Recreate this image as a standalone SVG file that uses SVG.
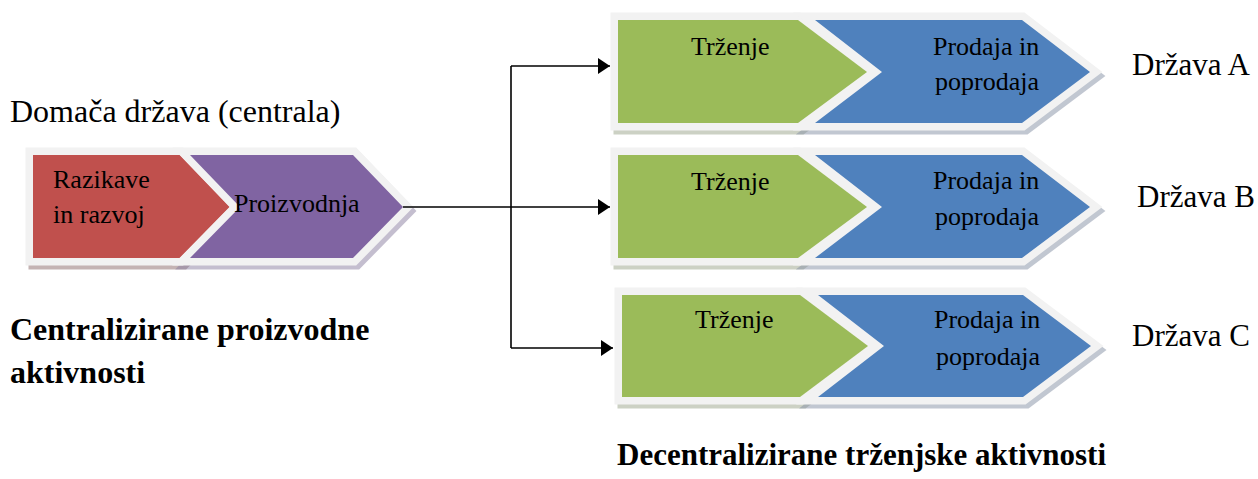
<svg xmlns="http://www.w3.org/2000/svg" width="1258" height="479" viewBox="0 0 1258 479">
<defs>
<marker id="arr" viewBox="0 0 12 16" refX="12" refY="8" markerWidth="12" markerHeight="16" markerUnits="userSpaceOnUse" orient="auto">
<path d="M0,0 L12,8 L0,16 Z" fill="#000"/>
</marker>
</defs>
<style>
.frame{stroke:#f2f2f2;stroke-width:15;stroke-linejoin:miter;paint-order:stroke}
.sh{stroke-width:15;stroke-linejoin:miter;opacity:0.5}
.red{fill:#c0504d}
.pur{fill:#8064a2}
.grn{fill:#9bbb59}
.blu{fill:#4f81bd}
.shr{fill:#8a6a6a;stroke:#8a6a6a}
.shp{fill:#8a7fa0;stroke:#8a7fa0}
.shg{fill:#9aa58a;stroke:#9aa58a}
.shb{fill:#8590a5;stroke:#8590a5}
.t{font-family:"Liberation Serif","Times New Roman",serif;fill:#000}
.in{font-size:26px}
.out{font-size:31px}
.big{font-size:32px}
.b{font-size:31px;font-weight:bold}
.b32{font-size:32px;font-weight:bold}
.conn{fill:none;stroke:#000;stroke-width:1.6}
</style>

<g id="centrala">
<polygon class="sh shr" transform="translate(3,4)" points="33,155 180,155 230,207 180,258 33,258"/>
<polygon class="sh shp" transform="translate(3,4)" points="190,155 353,155 403,207 353,258 190,258 240,207"/>
<polygon class="frame red" points="33,155 180,155 230,207 180,258 33,258"/>
<polygon class="frame pur" points="190,155 353,155 403,207 353,258 190,258 240,207"/>
<text class="t in" x="53" y="188">Razikave</text>
<text class="t in" x="53" y="223">in razvoj</text>
<text class="t in" x="234" y="212">Proizvodnja</text>
</g>

<g id="drzava-a">
<polygon class="sh shg" transform="translate(3,4)" points="618,20 798,20 867,72 798,123 618,123"/>
<polygon class="sh shb" transform="translate(3,4)" points="815,20 1022,20 1090,72 1022,123 815,123 882,72"/>
<polygon class="frame grn" points="618,20 798,20 867,72 798,123 618,123"/>
<polygon class="frame blu" points="815,20 1022,20 1090,72 1022,123 815,123 882,72"/>
<text class="t in" x="691" y="55">Trženje</text>
<text class="t in" x="933" y="55">Prodaja in</text>
<text class="t in" x="935" y="90">poprodaja</text>
<text class="t out" x="1132" y="75">Država A</text>
</g>

<g id="drzava-b">
<polygon class="sh shg" transform="translate(3,4)" points="618,155 798,155 867,207 798,258 618,258"/>
<polygon class="sh shb" transform="translate(3,4)" points="815,155 1022,155 1090,207 1022,258 815,258 882,207"/>
<polygon class="frame grn" points="618,155 798,155 867,207 798,258 618,258"/>
<polygon class="frame blu" points="815,155 1022,155 1090,207 1022,258 815,258 882,207"/>
<text class="t in" x="691" y="190">Trženje</text>
<text class="t in" x="933" y="189">Prodaja in</text>
<text class="t in" x="935" y="225">poprodaja</text>
<text class="t out" x="1137" y="207">Država B</text>
</g>

<g id="drzava-c">
<polygon class="sh shg" transform="translate(3,4)" points="622,295 800,295 868,346 800,397 622,397"/>
<polygon class="sh shb" transform="translate(3,4)" points="818,295 1023,295 1091,346 1023,397 818,397 884,346"/>
<polygon class="frame grn" points="622,295 800,295 868,346 800,397 622,397"/>
<polygon class="frame blu" points="818,295 1023,295 1091,346 1023,397 818,397 884,346"/>
<text class="t in" x="695" y="328">Trženje</text>
<text class="t in" x="934" y="328">Prodaja in</text>
<text class="t in" x="936" y="365">poprodaja</text>
<text class="t out" x="1132" y="346">Država C</text>
</g>

<g id="connectors">
<path class="conn" d="M403,207 H610" marker-end="url(#arr)"/>
<path class="conn" d="M511,66 V348"/>
<path class="conn" d="M511,66 H610" marker-end="url(#arr)"/>
<path class="conn" d="M511,348 H613" marker-end="url(#arr)"/>
</g>

<g id="labels">
<text class="t big" x="10" y="122">Domača država (centrala)</text>
<text class="t b32" x="10" y="340">Centralizirane proizvodne</text>
<text class="t b32" x="10" y="383">aktivnosti</text>
<text class="t b" x="617" y="465">Decentralizirane trženjske aktivnosti</text>
</g>
</svg>
